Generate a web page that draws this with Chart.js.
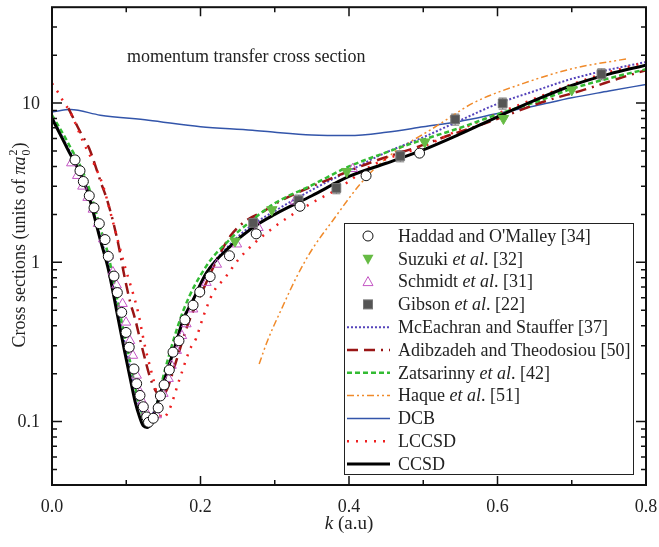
<!DOCTYPE html>
<html>
<head>
<meta charset="utf-8">
<script src="https://cdn.jsdelivr.net/npm/chart.js@4.4.0/dist/chart.umd.min.js"></script>
<style>
html, body { margin: 0; padding: 0; background: #fff; }
#wrap { width: 659px; height: 547px; }
</style>
</head>
<body>
<div id="wrap"><canvas id="chart" width="659" height="547"></canvas></div>
<script>
// axis ticks
const xTicks = [0, 0.2, 0.4, 0.6, 0.8];
const xMinor = [0.1, 0.3, 0.5, 0.7];
const yTicks = [0.1, 1, 10];
const yMinor = [0.05, 0.06, 0.07, 0.08, 0.09, 0.2, 0.3, 0.4, 0.5, 0.6, 0.7, 0.8, 0.9, 2, 3, 4, 5, 6, 7, 8, 9, 20, 30];

// Haddad and O'Malley [34]
const haddadK = [0.031, 0.0377, 0.0422, 0.0502, 0.0566, 0.0637, 0.0714, 0.0758, 0.0835, 0.088, 0.0939, 0.0997, 0.104, 0.1104, 0.114, 0.1185, 0.123, 0.1275, 0.13, 0.1364, 0.143, 0.146, 0.151, 0.158, 0.163, 0.171, 0.179, 0.19, 0.199, 0.213, 0.239, 0.275, 0.334, 0.423, 0.495];
const haddadVal = [4.4, 3.76, 3.22, 2.62, 2.2, 1.75, 1.39, 1.09, 0.82, 0.646, 0.485, 0.363, 0.293, 0.214, 0.173, 0.146, 0.124, 0.107, 0.099, 0.105, 0.122, 0.145, 0.17, 0.211, 0.273, 0.322, 0.436, 0.538, 0.652, 0.814, 1.1, 1.51, 2.25, 3.5, 4.85];

// Suzuki et al. [32]
const suzukiK = [0.2465, 0.296, 0.397, 0.502, 0.608, 0.70];
const suzukiVal = [1.36, 2.14, 3.72, 5.7, 8.0, 12.1];

// Schmidt et al. [31]
const schmidtK = [0.026, 0.034, 0.041, 0.048, 0.055, 0.062, 0.069, 0.076, 0.082, 0.087, 0.095, 0.0997, 0.105, 0.109, 0.114, 0.1185, 0.122, 0.1266, 0.141, 0.15, 0.157, 0.161, 0.168, 0.175, 0.181, 0.19, 0.208, 0.222, 0.249, 0.278, 0.327, 0.405];
const schmidtVal = [4.2, 3.5, 3.0, 2.55, 2.15, 1.75, 1.4, 1.1, 0.87, 0.72, 0.55, 0.42, 0.322, 0.26, 0.195, 0.153, 0.133, 0.115, 0.11, 0.15, 0.186, 0.225, 0.279, 0.346, 0.41, 0.508, 0.746, 0.97, 1.3, 1.65, 2.42, 3.87];

// Gibson et al. [22]
const gibsonK = [0.271, 0.332, 0.383, 0.469, 0.543, 0.607, 0.74];
const gibsonVal = [1.77, 2.45, 2.93, 4.65, 7.9, 9.96, 15.2];
const gibsonErr = [0.08, 0.08, 0.08, 0.08, 0.08, 0.08, 0.08];

// McEachran and Stauffer [37]
const mceK = [0, 0.02, 0.047, 0.065, 0.076, 0.088, 0.098, 0.105, 0.112, 0.12, 0.127, 0.133, 0.142, 0.152, 0.165, 0.177, 0.19, 0.208, 0.24, 0.27, 0.3, 0.35, 0.4, 0.45, 0.5, 0.55, 0.6, 0.65, 0.7, 0.75, 0.8];
const mceVal = [8.2, 5.4, 2.95, 1.45, 0.97, 0.52, 0.31, 0.22, 0.155, 0.115, 0.1, 0.105, 0.135, 0.19, 0.29, 0.43, 0.58, 0.86, 1.3, 1.72, 2.1, 2.85, 3.75, 4.9, 6.1, 7.8, 9.9, 11.9, 14.2, 16.2, 18.1];

// Adibzadeh and Theodosiou [50]
const adibK = [0.022, 0.038, 0.05, 0.066, 0.075, 0.088, 0.098, 0.105, 0.112, 0.1185, 0.125, 0.132, 0.14, 0.147, 0.155, 0.166, 0.184, 0.2, 0.229, 0.242, 0.26, 0.285, 0.307, 0.377, 0.433, 0.487, 0.536, 0.588, 0.662, 0.716, 0.77, 0.8];
const adibVal = [9.3, 6.6, 5.2, 3.16, 2.4, 1.39, 0.80, 0.57, 0.44, 0.33, 0.25, 0.19, 0.155, 0.145, 0.16, 0.23, 0.42, 0.62, 1.2, 1.5, 1.81, 2.09, 2.42, 3.38, 4.3, 5.2, 6.3, 7.6, 10.2, 12.1, 14.6, 16.1];

// Zatsarinny et al. [42]
const zatK = [0, 0.02, 0.047, 0.065, 0.076, 0.088, 0.098, 0.105, 0.112, 0.118, 0.125, 0.13, 0.135, 0.152, 0.177, 0.208, 0.24, 0.27, 0.3, 0.35, 0.4, 0.45, 0.5, 0.55, 0.6, 0.65, 0.7, 0.75, 0.8];
const zatVal = [8.4, 5.8, 3.2, 1.65, 1.1, 0.58, 0.34, 0.24, 0.165, 0.125, 0.1, 0.095, 0.1, 0.21, 0.5, 0.95, 1.4, 1.85, 2.35, 3.05, 4.0, 4.9, 5.9, 7.0, 8.5, 10.1, 12.3, 14.3, 16.3];

// Haque et al. [51]
const haqueK = [0.279, 0.29, 0.31, 0.33, 0.35, 0.377, 0.415, 0.44, 0.466, 0.51, 0.53, 0.567, 0.635, 0.702, 0.775];
const haqueVal = [0.23, 0.32, 0.52, 0.82, 1.2, 1.8, 3.1, 4.1, 5.1, 6.8, 7.8, 10.0, 13.3, 16.5, 19.0];

// DCB
const dcbK = [0, 0.025, 0.065, 0.13, 0.2, 0.27, 0.3, 0.35, 0.4, 0.45, 0.5, 0.55, 0.6, 0.65, 0.7, 0.75, 0.8];
const dcbVal = [8.8, 9.1, 8.4, 7.8, 7.1, 6.75, 6.55, 6.3, 6.25, 6.55, 7.1, 7.7, 8.6, 9.6, 10.8, 11.9, 13.1];

// LCCSD
const lccsdK = [0, 0.0085, 0.016, 0.025, 0.042, 0.056, 0.069, 0.08, 0.1, 0.105, 0.116, 0.125, 0.139, 0.148, 0.157, 0.172, 0.186, 0.194, 0.204, 0.217, 0.233, 0.251, 0.271, 0.307, 0.354, 0.383, 0.433, 0.505, 0.549, 0.662, 0.729, 0.8];
const lccsdVal = [13.3, 11.6, 10.1, 8.7, 5.7, 4.2, 3.0, 1.95, 0.88, 0.74, 0.485, 0.30, 0.165, 0.105, 0.116, 0.186, 0.286, 0.333, 0.46, 0.646, 0.80, 1.04, 1.3, 1.77, 2.42, 2.86, 4.1, 5.46, 6.8, 11.2, 14.6, 18.1];

// CCSD
const ccsdK = [0, 0.02, 0.047, 0.065, 0.076, 0.088, 0.098, 0.105, 0.112, 0.118, 0.123, 0.128, 0.133, 0.142, 0.152, 0.165, 0.177, 0.19, 0.208, 0.24, 0.27, 0.3, 0.35, 0.4, 0.45, 0.5, 0.55, 0.6, 0.65, 0.7, 0.75, 0.8];
const ccsdVal = [8.0, 5.25, 2.86, 1.39, 0.90, 0.47, 0.273, 0.19, 0.133, 0.107, 0.094, 0.092, 0.097, 0.13, 0.186, 0.29, 0.44, 0.58, 0.86, 1.26, 1.65, 2.0, 2.62, 3.46, 4.19, 5.08, 6.4, 8.2, 10.4, 12.9, 15.2, 17.3];

const SERIF = '"Liberation Serif", "DejaVu Serif", serif';

function pts(ks, vs) {
    return ks.map((k, i) => ({ x: k, y: vs[i] }));
}

// line styles, shared by plot and legend
const styles = {
    mce:   { color: '#5544bb', width: 2,   dash: [2, 2] },
    adib:  { color: '#991515', width: 2.5, dash: [11, 6, 11, 6, 2, 6] },
    zat:   { color: '#33bb33', width: 2.5, dash: [5, 3] },
    haque: { color: '#f08a2a', width: 1.5, dash: [7, 3, 2, 3, 2, 3] },
    dcb:   { color: '#3355aa', width: 1.5, dash: [] },
    lccsd: { color: '#ee2020', width: 2.5, dash: [2, 7] },
    ccsd:  { color: '#000000', width: 3,   dash: [] }
};

function lineSet(label, ks, vs, st, order) {
    return {
        label: label,
        data: pts(ks, vs),
        borderColor: st.color,
        borderWidth: st.width,
        borderDash: st.dash,
        pointRadius: 0,
        fill: false,
        cubicInterpolationMode: 'monotone',
        order: order
    };
}

const datasets = [
    {
        label: "Haddad and O'Malley [34]",
        data: pts(haddadK, haddadVal),
        showLine: false,
        pointStyle: 'circle',
        pointRadius: 5,
        pointBackgroundColor: '#ffffff',
        pointBorderColor: '#111111',
        pointBorderWidth: 1,
        order: 0
    },
    {
        label: 'Suzuki et al. [32]',
        data: pts(suzukiK, suzukiVal),
        showLine: false,
        pointStyle: 'triangle',
        rotation: 180,
        pointRadius: 6,
        pointBackgroundColor: '#66bb44',
        pointBorderColor: '#66bb44',
        pointBorderWidth: 1,
        order: 1
    },
    {
        label: 'Schmidt et al. [31]',
        data: pts(schmidtK, schmidtVal),
        showLine: false,
        pointStyle: 'triangle',
        pointRadius: 5.5,
        pointBackgroundColor: 'rgba(0,0,0,0)',
        pointBorderColor: '#c455c4',
        pointBorderWidth: 1,
        order: 2
    },
    {
        label: 'Gibson et al. [22]',
        data: pts(gibsonK, gibsonVal),
        showLine: false,
        pointStyle: 'rect',
        pointRadius: 6.2,
        pointBackgroundColor: '#555555',
        pointBorderColor: '#777777',
        pointBorderWidth: 1,
        order: 1
    },
    lineSet('McEachran and Stauffer [37]', mceK, mceVal, styles.mce, 7),
    lineSet('Adibzadeh and Theodosiou [50]', adibK, adibVal, styles.adib, 6),
    lineSet('Zatsarinny et al. [42]', zatK, zatVal, styles.zat, 4),
    lineSet('Haque et al. [51]', haqueK, haqueVal, styles.haque, 8),
    lineSet('DCB', dcbK, dcbVal, styles.dcb, 9),
    lineSet('LCCSD', lccsdK, lccsdVal, styles.lccsd, 5),
    lineSet('CCSD', ccsdK, ccsdVal, styles.ccsd, 3)
];

// legend rows: [kind, style, text segments (text, italic)]
const legendRows = [
    ['circle', null, [["Haddad and O'Malley [34]", 0]]],
    ['triDown', null, [['Suzuki ', 0], ['et al', 1], ['. [32]', 0]]],
    ['triUp', null, [['Schmidt ', 0], ['et al', 1], ['. [31]', 0]]],
    ['square', null, [['Gibson ', 0], ['et al', 1], ['. [22]', 0]]],
    ['line', styles.mce, [['McEachran and Stauffer [37]', 0]]],
    ['line', styles.adib, [['Adibzadeh and Theodosiou [50]', 0]]],
    ['line', styles.zat, [['Zatsarinny ', 0], ['et al', 1], ['. [42]', 0]]],
    ['line', styles.haque, [['Haque ', 0], ['et al', 1], ['. [51]', 0]]],
    ['line', styles.dcb, [['DCB', 0]]],
    ['line', styles.lccsd, [['LCCSD', 0]]],
    ['line', styles.ccsd, [['CCSD', 0]]]
];

function richText(ctx, segs, x, y, size) {
    let cx = x;
    segs.forEach(s => {
        ctx.font = (s[1] ? 'italic ' : '') + size + 'px ' + SERIF;
        ctx.fillText(s[0], cx, y);
        cx += ctx.measureText(s[0]).width;
    });
}

const decor = {
    id: 'decor',
    beforeDatasetsDraw(chart) {
        // Gibson error bars
        const ctx = chart.ctx, xs = chart.scales.x, ys = chart.scales.y;
        ctx.save();
        ctx.strokeStyle = '#777777';
        ctx.lineWidth = 1;
        gibsonK.forEach((k, i) => {
            const px = xs.getPixelForValue(k);
            const top = ys.getPixelForValue(gibsonVal[i] * (1 + gibsonErr[i]));
            const bot = ys.getPixelForValue(gibsonVal[i] * (1 - gibsonErr[i]));
            ctx.beginPath();
            ctx.moveTo(px, top); ctx.lineTo(px, bot);
            ctx.moveTo(px - 4, top); ctx.lineTo(px + 4, top);
            ctx.moveTo(px - 4, bot); ctx.lineTo(px + 4, bot);
            ctx.stroke();
        });
        ctx.restore();
    },
    afterDraw(chart) {
        const ctx = chart.ctx, a = chart.chartArea;
        const xs = chart.scales.x, ys = chart.scales.y;
        ctx.save();
        ctx.strokeStyle = '#111';
        ctx.lineWidth = 2;
        ctx.strokeRect(a.left, a.top, a.right - a.left, a.bottom - a.top);

        // inward ticks on all four sides
        ctx.lineWidth = 1.5;
        ctx.beginPath();
        const xt = (v, len) => {
            const p = xs.getPixelForValue(v);
            ctx.moveTo(p, a.bottom); ctx.lineTo(p, a.bottom - len);
            ctx.moveTo(p, a.top); ctx.lineTo(p, a.top + len);
        };
        const yt = (v, len) => {
            const p = ys.getPixelForValue(v);
            ctx.moveTo(a.left, p); ctx.lineTo(a.left + len, p);
            ctx.moveTo(a.right, p); ctx.lineTo(a.right - len, p);
        };
        xTicks.forEach(v => xt(v, 9));
        xMinor.forEach(v => xt(v, 5));
        yTicks.forEach(v => yt(v, 10));
        yMinor.forEach(v => yt(v, 5));
        ctx.stroke();

        ctx.fillStyle = '#222';
        ctx.font = '18px ' + SERIF;

        // tick labels
        ctx.textAlign = 'center';
        ctx.textBaseline = 'alphabetic';
        xTicks.forEach(v => ctx.fillText(v.toFixed(1), xs.getPixelForValue(v), 512));
        ctx.textAlign = 'right';
        ctx.textBaseline = 'middle';
        yTicks.forEach(v => ctx.fillText(String(v), 40, ys.getPixelForValue(v) + 1));

        ctx.textAlign = 'left';
        ctx.textBaseline = 'alphabetic';

        // annotation
        ctx.font = '18px ' + SERIF;
        ctx.fillText('momentum transfer cross section', 127, 62);

        // x title
        ctx.font = 'italic 19px ' + SERIF;
        const kW = ctx.measureText('k').width;
        ctx.font = '19px ' + SERIF;
        const restW = ctx.measureText(' (a.u)').width;
        const xStart = (a.left + a.right) / 2 - (kW + restW) / 2;
        richText(ctx, [['k', 1], [' (a.u)', 0]], xStart, 529, 19);

        // y title, rotated
        ctx.save();
        ctx.translate(25, 245);
        ctx.rotate(-Math.PI / 2);
        ctx.font = '18px ' + SERIF;
        const t1 = 'Cross sections (units of ';
        const w1 = ctx.measureText(t1).width;
        ctx.font = 'italic 18px ' + SERIF;
        const w2 = ctx.measureText('\u03c0a').width;
        ctx.font = '12px ' + SERIF;
        const w3 = ctx.measureText('2').width;
        ctx.font = '18px ' + SERIF;
        const w4 = ctx.measureText(')').width;
        let cx = -(w1 + w2 + w3 + w4 + 2) / 2;
        ctx.fillText(t1, cx, 0); cx += w1;
        ctx.font = 'italic 18px ' + SERIF;
        ctx.fillText('\u03c0a', cx, 0); cx += w2 + 1;
        ctx.font = '12px ' + SERIF;
        ctx.fillText('2', cx, -8);
        ctx.fillText('0', cx, 5);
        cx += w3 + 1;
        ctx.font = '18px ' + SERIF;
        ctx.fillText(')', cx, 0);
        ctx.restore();

        // legend
        const lx = 344, ly = 223, lw = 289, lh = 251;
        ctx.fillStyle = '#fff';
        ctx.fillRect(lx, ly, lw, lh);
        ctx.strokeStyle = '#222';
        ctx.lineWidth = 1;
        ctx.strokeRect(lx + 0.5, ly + 0.5, lw, lh);
        legendRows.forEach((row, i) => {
            const cy = 236 + i * 22.8;
            const mx = 368;
            ctx.save();
            if (row[0] === 'line') {
                const st = row[1];
                ctx.strokeStyle = st.color;
                ctx.lineWidth = st.width;
                ctx.setLineDash(st.dash);
                ctx.beginPath();
                ctx.moveTo(347, cy); ctx.lineTo(390, cy);
                ctx.stroke();
            } else if (row[0] === 'circle') {
                ctx.strokeStyle = '#111'; ctx.lineWidth = 1;
                ctx.beginPath(); ctx.arc(mx, cy, 5, 0, Math.PI * 2); ctx.stroke();
            } else if (row[0] === 'triDown') {
                ctx.fillStyle = '#66bb44';
                ctx.beginPath();
                ctx.moveTo(mx - 5.5, cy - 4); ctx.lineTo(mx + 5.5, cy - 4); ctx.lineTo(mx, cy + 6);
                ctx.closePath(); ctx.fill();
            } else if (row[0] === 'triUp') {
                ctx.strokeStyle = '#c455c4'; ctx.lineWidth = 1;
                ctx.beginPath();
                ctx.moveTo(mx - 5, cy + 4); ctx.lineTo(mx + 5, cy + 4); ctx.lineTo(mx, cy - 5);
                ctx.closePath(); ctx.stroke();
            } else if (row[0] === 'square') {
                ctx.fillStyle = '#555'; ctx.strokeStyle = '#777';
                ctx.fillRect(mx - 4.5, cy - 4.5, 9, 9);
                ctx.strokeRect(mx - 4.5, cy - 4.5, 9, 9);
            }
            ctx.restore();
            ctx.fillStyle = '#222';
            ctx.textBaseline = 'middle';
            richText(ctx, row[2], 398, cy + 1, 18);
        });
        ctx.restore();
    }
};

const ctx = document.getElementById('chart').getContext('2d');
new Chart(ctx, {
    type: 'line',
    data: { datasets: datasets },
    options: {
        responsive: false,
        animation: false,
        layout: { padding: { top: 7, right: 13, left: 0, bottom: 0 } },
        plugins: { legend: { display: false }, tooltip: { enabled: false } },
        scales: {
            x: {
                type: 'linear',
                min: 0,
                max: 0.8,
                afterBuildTicks: s => { s.ticks = xTicks.map(v => ({ value: v })); },
                afterFit: s => { s.height = 62; },
                ticks: { display: false },
                grid: { display: false, drawTicks: false },
                border: { display: false }
            },
            y: {
                type: 'logarithmic',
                min: 0.04,
                max: 40,
                afterBuildTicks: s => { s.ticks = yTicks.map(v => ({ value: v })); },
                afterFit: s => { s.width = 52; },
                ticks: { display: false },
                grid: { display: false, drawTicks: false },
                border: { display: false }
            }
        }
    },
    plugins: [decor]
});
</script>
</body>
</html>
